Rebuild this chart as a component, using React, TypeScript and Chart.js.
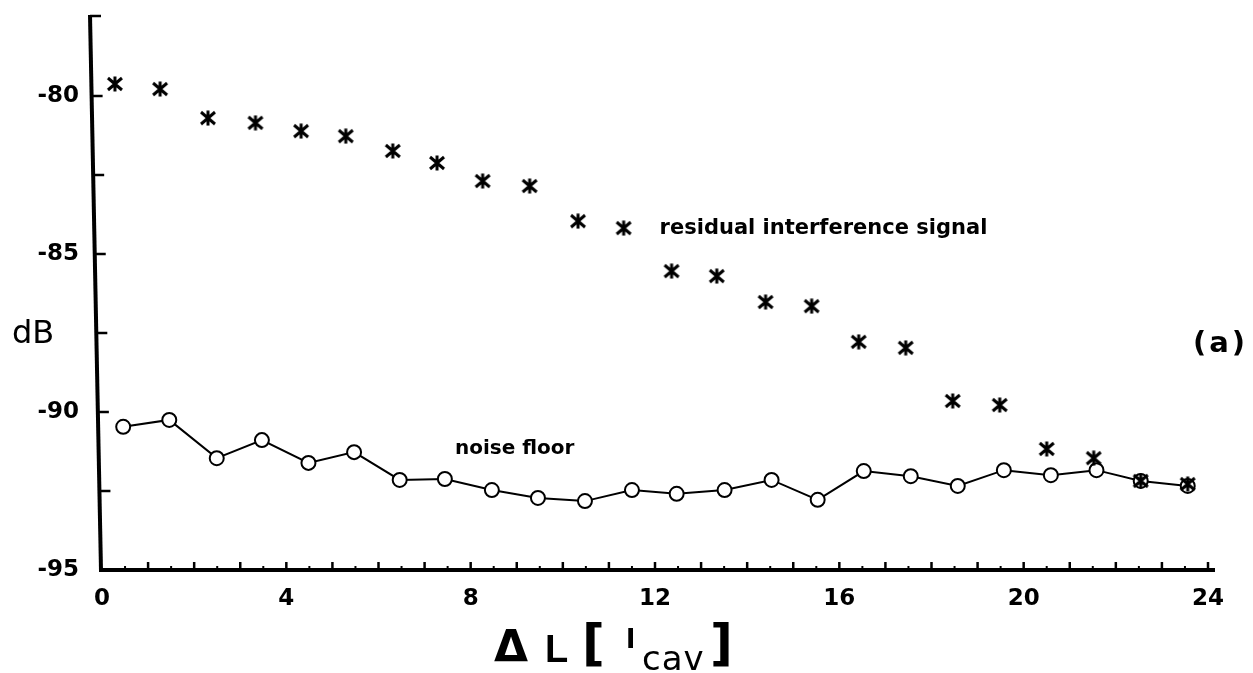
import { useEffect, useRef } from "react";
import { Chart, registerables } from "chart.js";

Chart.register(...registerables);

// ΔL positions (in units of l_cav) and levels in dB
const residualX = [0.28, 1.26, 2.3, 3.33, 4.32, 5.29, 6.31, 7.27, 8.26, 9.28, 10.33, 11.32, 12.36, 13.34, 14.4, 15.4, 16.42, 17.44, 18.46, 19.48, 20.5, 21.52, 22.54, 23.56];
const residualDb = [-79.62, -79.78, -80.7, -80.85, -81.11, -81.27, -81.74, -82.12, -82.69, -82.85, -83.96, -84.18, -85.54, -85.7, -86.52, -86.65, -87.78, -87.97, -89.65, -89.78, -91.17, -91.46, -92.18, -92.28];

const noiseX = [0.46, 1.46, 2.49, 3.47, 4.48, 5.47, 6.46, 7.44, 8.46, 9.46, 10.48, 11.5, 12.47, 13.51, 14.53, 15.53, 16.53, 17.55, 18.57, 19.57, 20.59, 21.58, 22.54, 23.56];
const noiseDb = [-90.47, -90.25, -91.46, -90.89, -91.61, -91.27, -92.15, -92.12, -92.47, -92.72, -92.82, -92.47, -92.59, -92.47, -92.15, -92.78, -91.87, -92.03, -92.34, -91.84, -92.0, -91.84, -92.18, -92.34];

const xMin = 0;
const xMax = 24;
const xLabelStep = 4;
const xMinorStep = 0.5;
const yMin = -95;
const yMax = -77.5;
const yLabelStep = 5;
const yMinorStep = 2.5;

const residualLabel = "residual interference signal";
const noiseLabel = "noise floor";
const panelLabel = "(a)";
const yTitle = "dB";

const FONT = "'DejaVu Sans', 'Liberation Sans', sans-serif";

function makeAsterisk(): HTMLCanvasElement {
  const c = document.createElement("canvas");
  c.width = 18;
  c.height = 16;
  const g = c.getContext("2d")!;
  g.strokeStyle = "#000";
  g.lineWidth = 3;
  g.lineCap = "butt";
  g.beginPath();
  g.moveTo(2, 2);
  g.lineTo(16, 14);
  g.moveTo(16, 2);
  g.lineTo(2, 14);
  g.moveTo(9, 0.5);
  g.lineTo(9, 15.5);
  g.stroke();
  return c;
}

const framePlugin = {
  id: "frame",
  beforeDatasetsDraw(chart: any) {
    const { ctx } = chart;
    const xs = chart.scales.x;
    const ys = chart.scales.y;
    const yTop = ys.getPixelForValue(yMax) - 2;
    const yBot = ys.getPixelForValue(yMin);
    // the vertical axis leans slightly
    const axisAt = (py: number) => 90 + ((py - yTop) * 11) / (yBot - yTop);
    ctx.save();
    ctx.strokeStyle = "#000";
    ctx.lineCap = "butt";

    // y axis
    ctx.lineWidth = 4;
    ctx.beginPath();
    ctx.moveTo(axisAt(yTop), yTop);
    ctx.lineTo(axisAt(yBot + 2), yBot + 2);
    ctx.stroke();

    // y ticks pointing inward
    ctx.lineWidth = 2.5;
    for (let v = yMin + yMinorStep; v <= yMax + 1e-9; v += yMinorStep) {
      const py = v === yMax ? yTop + 1 : ys.getPixelForValue(v);
      const ax = axisAt(py);
      ctx.beginPath();
      ctx.moveTo(ax, py);
      ctx.lineTo(ax + 11, py);
      ctx.stroke();
    }

    // x axis
    ctx.lineWidth = 4;
    ctx.beginPath();
    ctx.moveTo(axisAt(yBot), yBot);
    ctx.lineTo(xs.getPixelForValue(xMax) + 7, yBot);
    ctx.stroke();

    // x ticks pointing inward
    for (let v = xMin + xMinorStep; v <= xMax + 1e-9; v += xMinorStep) {
      const px = xs.getPixelForValue(v);
      const major = Math.abs(v - Math.round(v)) < 1e-9;
      ctx.lineWidth = major ? 2.5 : 2;
      ctx.beginPath();
      ctx.moveTo(px, yBot);
      ctx.lineTo(px, yBot - (major ? 8 : 4));
      ctx.stroke();
    }
    ctx.restore();
  },
  afterDatasetsDraw(chart: any) {
    const { ctx } = chart;
    const xs = chart.scales.x;
    const ys = chart.scales.y;
    ctx.save();
    ctx.fillStyle = "#000";
    ctx.textAlign = "left";
    ctx.textBaseline = "middle";

    ctx.font = `bold 21px ${FONT}`;
    ctx.fillText(residualLabel, xs.getPixelForValue(12.1), ys.getPixelForValue(-84.18));

    ctx.font = `bold 20px ${FONT}`;
    ctx.fillText(noiseLabel, xs.getPixelForValue(7.66), ys.getPixelForValue(-91.17));

    ctx.textBaseline = "alphabetic";
    ctx.font = `bold 29px ${FONT}`;
    (ctx as any).letterSpacing = "3px";
    ctx.fillText(panelLabel, 1193, 352);
    (ctx as any).letterSpacing = "0px";

    ctx.font = `32px ${FONT}`;
    ctx.fillText(yTitle, 12, 343);

    // x axis title: ΔL [ l_cav ]
    ctx.font = `bold 44px ${FONT}`;
    ctx.fillText("\u0394", 494, 662);
    ctx.font = `bold 38px 'Liberation Sans', sans-serif`;
    ctx.fillText("L", 545, 662);
    ctx.font = `bold 50px ${FONT}`;
    ctx.fillText("[", 582, 660);
    ctx.font = `bold 27px ${FONT}`;
    ctx.fillText("l", 626, 648);
    ctx.font = `34px ${FONT}`;
    (ctx as any).letterSpacing = "1px";
    ctx.fillText("cav", 642, 670);
    (ctx as any).letterSpacing = "0px";
    ctx.font = `bold 50px ${FONT}`;
    ctx.fillText("]", 710, 660);
    ctx.restore();
  },
};

export default function App() {
  const ref = useRef<HTMLCanvasElement | null>(null);

  useEffect(() => {
    document.body.style.margin = "0";
    document.body.style.background = "#fff";
    const canvas = ref.current!;
    const star = makeAsterisk();
    const chart = new Chart(canvas, {
      type: "scatter",
      data: {
        datasets: [
          {
            label: residualLabel,
            data: residualX.map((x, i) => ({ x, y: residualDb[i] })),
            showLine: false,
            pointStyle: star as any,
            pointRadius: 8,
            borderColor: "#000",
            backgroundColor: "#000",
          },
          {
            label: noiseLabel,
            data: noiseX.map((x, i) => ({ x, y: noiseDb[i] })),
            showLine: true,
            borderColor: "#000",
            borderWidth: 2,
            tension: 0,
            pointStyle: "circle",
            pointRadius: 7,
            pointBorderWidth: 2,
            pointBorderColor: "#000",
            pointBackgroundColor: "#fff",
          },
        ],
      },
      options: {
        responsive: false,
        animation: false,
        devicePixelRatio: 1,
        layout: { padding: { top: 17, right: 45, left: 0, bottom: 0 } },
        plugins: {
          legend: { display: false },
          tooltip: { enabled: false },
        },
        scales: {
          x: {
            type: "linear",
            min: xMin,
            max: xMax,
            grid: { display: false, drawTicks: false },
            border: { display: false },
            ticks: {
              stepSize: xLabelStep,
              padding: 15,
              color: "#000",
              font: { family: FONT, weight: "bold", size: 23 },
              autoSkip: false,
              maxRotation: 0,
            },
            afterFit: (s: any) => {
              s.height = 103;
              s.paddingLeft = 0;
              s.paddingRight = 0;
            },
          },
          y: {
            type: "linear",
            min: yMin,
            max: yMax,
            grid: { display: false, drawTicks: false },
            border: { display: false },
            ticks: {
              stepSize: yMinorStep,
              padding: 23,
              color: "#000",
              font: { family: FONT, weight: "bold", size: 23 },
              autoSkip: false,
              callback: (v: any) => {
                const n = Number(v);
                return Math.abs(n / yLabelStep - Math.round(n / yLabelStep)) < 1e-9 ? String(n) : "";
              },
            },
            afterFit: (s: any) => {
              s.width = 102;
              s.paddingTop = 0;
              s.paddingBottom = 0;
            },
          },
        },
      },
      plugins: [framePlugin],
    });
    return () => chart.destroy();
  }, []);

  return (
    <div style={{ position: "absolute", left: 0, top: 0, width: 1253, height: 673, background: "#fff" }}>
      <canvas ref={ref} width={1253} height={673} style={{ display: "block" }} />
    </div>
  );
}
